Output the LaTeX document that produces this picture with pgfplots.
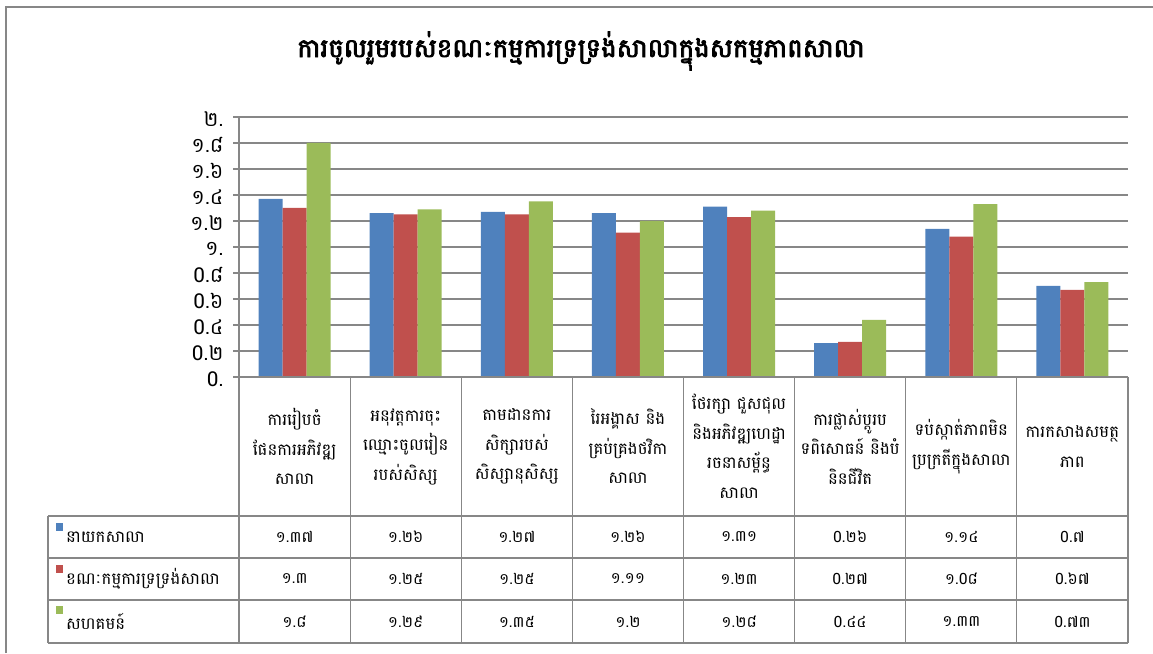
\documentclass[border=0pt]{standalone}
\usepackage{pgfplots}
\pgfplotsset{compat=1.18}
\usepackage{fontspec}
\setmainfont[Script=Khmer]{Battambang}
\newfontfamily\khb[Script=Khmer,FakeBold=3]{Battambang}
\definecolor{sA}{HTML}{4F81BD}
\definecolor{sB}{HTML}{C0504D}
\definecolor{sC}{HTML}{9BBB59}
\definecolor{gl}{HTML}{878787}
% Khmer digits for table values
\def\kn#1{\expandafter\knx#1\relax}
\def\knx#1{\ifx\relax#1\else\kdig{#1}\expandafter\knx\fi}
\def\kdig#1{\if.#1.\else\ifcase#1 0\or ១\or ២\or ៣\or ៤\or ៥\or ៦\or ៧\or ៨\or ៩\fi\fi}
\begin{document}
\begin{tikzpicture}[x=1pt,y=1pt]
\useasboundingbox (0,0) rectangle (1153,653);
\draw[gl, line width=1.5pt] (6,0) -- (6,646) -- (1153,646);
\node[font=\khb\fontsize{26}{30}\selectfont] at (581,602) {ការចូលរួមរបស់ខណៈកម្មការទ្រទ្រង់សាលាក្នុងសកម្មភាពសាលា};
\begin{axis}[
  at={(239pt,276pt)}, anchor=south west,
  scale only axis, width=889pt, height=260pt,
  xmin=0.5, xmax=8.5, ymin=0, ymax=2,
  ybar=0pt, bar width=24pt,
  axis lines*=left, axis line style={-, gl, line width=1.2pt},
  xtick=\empty,
  ytick={0,0.2,0.4,0.6,0.8,1,1.2,1.4,1.6,1.8,2},
  yticklabels={0.,0.២,0.៤,0.៦,0.៨,១.,១.២,១.៤,១.៦,១.៨,២.},
  yticklabel style={font=\fontsize{20.5}{24}\selectfont, xshift=-6pt, yshift=-2pt},
  tick align=outside, major tick length=6pt,
  tick style={gl, line width=1.2pt},
  ymajorgrids, grid style={gl, line width=1.2pt},
  clip=false,
]
\addplot[fill=sA, draw=none] coordinates {(1,1.37) (2,1.26) (3,1.27) (4,1.26) (5,1.31) (6,0.26) (7,1.14) (8,0.7)};
\addplot[fill=sB, draw=none] coordinates {(1,1.3) (2,1.25) (3,1.25) (4,1.11) (5,1.23) (6,0.27) (7,1.08) (8,0.67)};
\addplot[fill=sC, draw=none] coordinates {(1,1.8) (2,1.29) (3,1.35) (4,1.2) (5,1.28) (6,0.44) (7,1.33) (8,0.73)};
\end{axis}
% table grid
\begin{scope}[gl, line width=1.2pt]
\draw (239,276) -- (1128,276);
\foreach \y in {137,95,53,10} \draw (48,\y) -- (1128,\y);
\draw (48,137) -- (48,10);
\foreach \i in {0,...,8} \draw ({239+\i*111.125},276) -- ({239+\i*111.125},10);
\end{scope}
% header labels
\begin{scope}[every node/.style={align=center, font=\fontsize{16.5}{29.5}\selectfont}]
\node at ({239+0.5*111.125},206.5) {ការរៀបចំ\\ផែនការអភិវឌ្ឍ\\សាលា};
\node at ({239+1.5*111.125},206.5) {អនុវត្តការចុះ\\ឈ្មោះចូលរៀន\\របស់សិស្ស};
\node at ({239+2.5*111.125},206.5) {តាមដានការ\\សិក្សារបស់\\សិស្សានុសិស្ស};
\node at ({239+3.5*111.125},206.5) {រៃអង្គាស និង\\គ្រប់គ្រងថវិកា\\សាលា};
\node at ({239+4.5*111.125},206.5) {ថែរក្សា ជួសជុល\\និងអភិវឌ្ឍហេដ្ឋា\\រចនាសម្ព័ន្ធ\\សាលា};
\node at ({239+5.5*111.125},206.5) {ការផ្លាស់ប្តូរប\\ទពិសោធន៍ និងបំ\\និនជីវិត};
\node at ({239+6.5*111.125},206.5) {ទប់ស្កាត់ភាពមិន\\ប្រក្រតីក្នុងសាលា};
\node at ({239+7.5*111.125},206.5) {ការកសាងសមត្ថ\\ភាព};
\end{scope}
% legend keys and names
\fill[sA] (56,122) rectangle (63,130);
\fill[sB] (56,80) rectangle (63,88);
\fill[sC] (56,39) rectangle (63,47);
\begin{scope}[every node/.style={anchor=west, inner sep=0pt, font=\fontsize{16.5}{19}\selectfont}]
\node at (66,116) {នាយកសាលា};
\node at (66,74) {ខណៈកម្មការទ្រទ្រង់សាលា};
\node at (66,31.5) {សហគមន៍};
\end{scope}
% data values
\begin{scope}[every node/.style={font=\fontsize{15.5}{17}\selectfont}]
\foreach \v [count=\i] in {1.37,1.26,1.27,1.26,1.31,0.26,1.14,0.7}
  \node at ({239+(\i-0.5)*111.125},116) {\kn{\v}};
\foreach \v [count=\i] in {1.3,1.25,1.25,1.11,1.23,0.27,1.08,0.67}
  \node at ({239+(\i-0.5)*111.125},74) {\kn{\v}};
\foreach \v [count=\i] in {1.8,1.29,1.35,1.2,1.28,0.44,1.33,0.73}
  \node at ({239+(\i-0.5)*111.125},31.5) {\kn{\v}};
\end{scope}
\end{tikzpicture}
\end{document}
